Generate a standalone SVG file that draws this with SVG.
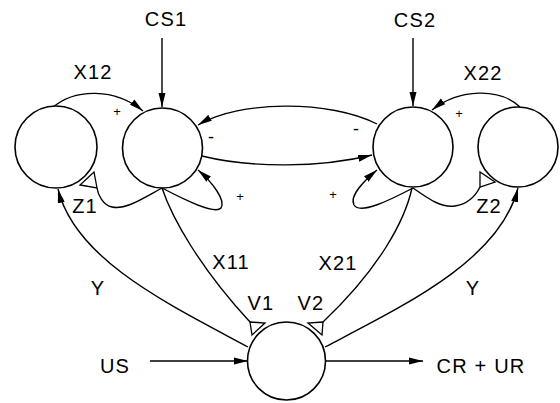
<svg xmlns="http://www.w3.org/2000/svg" width="560" height="403" viewBox="0 0 560 403">
<style>
.n{fill:#fff;stroke:#000;stroke-width:1.6}
.c{fill:none;stroke:#000;stroke-width:1.4}
.h{fill:#fff;stroke:#000;stroke-width:1.3;stroke-linejoin:miter}
text{font-family:"Liberation Sans",Arial,sans-serif;font-size:20px;fill:#000;text-anchor:middle;letter-spacing:1.2px}
.s{font-size:13px;letter-spacing:0}
.m{font-size:18px;letter-spacing:0}
</style>
<defs>
<marker id="a" viewBox="0 0 14 8" refX="14" refY="4" markerWidth="14" markerHeight="8" markerUnits="userSpaceOnUse" orient="auto">
<path d="M0,0.5 L14,4 L0,7.5 Z" fill="#000"/>
</marker>
</defs>
<rect width="560" height="403" fill="#fff"/>
<g id="connectors">
<path class="c" d="M162,38 L162,107" marker-end="url(#a)"/>
<path class="c" d="M413,38 L413,106" marker-end="url(#a)"/>
<path class="c" d="M52,108 C75,88 115,88 143,111" marker-end="url(#a)"/>
<path class="c" d="M520,107 C500,88 460,88 432,110" marker-end="url(#a)"/>
<path class="c" d="M377,124 C330,100 240,100 198,125" marker-end="url(#a)"/>
<path class="c" d="M202,156 C250,168 320,168 372,155" marker-end="url(#a)"/>
<path class="c" d="M162,188 C185,200 215,215 221,208 C226,200 212,182 198,170" marker-end="url(#a)"/>
<path class="c" d="M413,188 C390,200 360,215 354,205 C349,196 365,180 377,170" marker-end="url(#a)"/>
<path class="c" d="M162,188 C140,200 125,210 112,207 C103,205 98,195 97,188"/>
<polygon class="h" points="97,188 94,172 80,185"/>
<path class="c" d="M413,188 C430,200 442,208 455,206 C468,204 476,195 480,187"/>
<polygon class="h" points="480,187 480,172 495,182"/>
<path class="c" d="M162,188 C172,218 200,268 250,322"/>
<polygon class="h" points="250,322 265,323 252,335"/>
<path class="c" d="M412,188 C405,220 380,268 323,322"/>
<polygon class="h" points="323,322 308,323 322,335"/>
<path class="c" d="M248,347 C170,305 75,260 58,189" marker-end="url(#a)"/>
<path class="c" d="M325,347 C405,305 500,260 518,188" marker-end="url(#a)"/>
<path class="c" d="M150,361 L248,361" marker-end="url(#a)"/>
<path class="c" d="M325,361 L423,361" marker-end="url(#a)"/>
</g>
<g id="node-a"><circle class="n" cx="56" cy="147" r="41"/></g>
<g id="node-b"><circle class="n" cx="162.5" cy="148" r="40"/></g>
<g id="node-c"><circle class="n" cx="413" cy="147" r="40"/></g>
<g id="node-d"><circle class="n" cx="518" cy="147" r="40"/></g>
<g id="node-e"><circle class="n" cx="286.5" cy="361" r="39"/></g>
<g id="labels">
<text x="166" y="26">CS1</text>
<text x="415" y="27">CS2</text>
<text x="93" y="79">X12</text>
<text x="483" y="80">X22</text>
<text class="s" x="117" y="116">+</text>
<text class="s" x="459" y="118">+</text>
<text class="s" x="240" y="201">+</text>
<text class="s" x="333" y="199">+</text>
<text class="m" x="211" y="143">-</text>
<text class="m" x="356" y="135">-</text>
<text x="85" y="213">Z1</text>
<text x="489" y="213">Z2</text>
<text x="98" y="295">Y</text>
<text x="473" y="295">Y</text>
<text x="231" y="269">X11</text>
<text x="338" y="270">X21</text>
<text x="261" y="310">V1</text>
<text x="311" y="310">V2</text>
<text x="115" y="373">US</text>
<text x="481" y="373">CR + UR</text>
</g>
</svg>
